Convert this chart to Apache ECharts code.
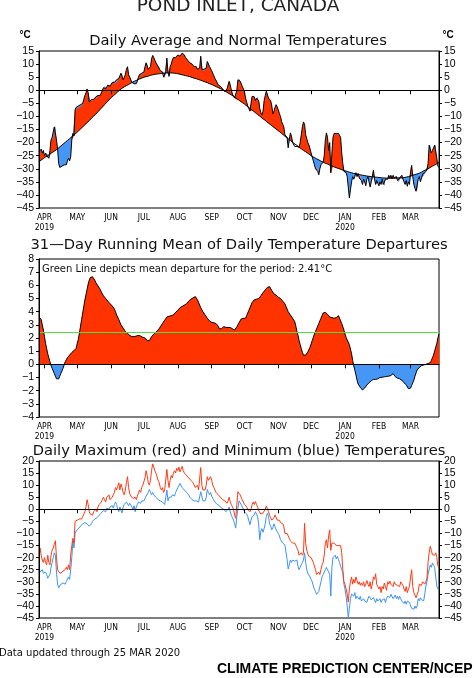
<!DOCTYPE html>
<html><head><meta charset="utf-8">
<script src="https://cdn.jsdelivr.net/npm/echarts@6/dist/echarts.min.js"></script>
<style>html,body{margin:0;padding:0;background:#fff}#c{width:474px;height:678px}</style>
</head><body><div id="c"></div>
<script>
// ---------------- data ----------------
const startDate = [2019, 2, 27];   // 27 Mar 2019 (year, monthIndex, day)
const dayCount = 367;
const monthNames = ['JAN','FEB','MAR','APR','MAY','JUN','JUL','AUG','SEP','OCT','NOV','DEC'];
const yearLabels = {'2019-04-01':'2019','2020-01-01':'2020'};
const periodMeanDeparture = 2.41;

const dailyAvg = [
-23.5,-24,-22.5,-24,-23,-25,-24,-25,-24.5,-26,
-23,-19,-18,-18.5,-14,-13.5,-19,-22.5,-28,-29.5,
-29,-29,-28.5,-28.5,-28,-28.5,-27,-26,-27,-25.5,
-19,-16.5,-17.5,-7.5,-6.5,-7,-6,-6.5,-5.5,-6,
-5,-4.5,-2,-1,0.5,-1,-4.5,-4,-3.5,-4,
-3.5,-3,-2.5,-3,-2,-1.5,-2,-1,0,1,
1.5,0.5,1,2,2,1.5,2,3,3.5,3,
2.5,4,3.5,4.5,5,6.5,6.5,4,5,6,
8,9,6,5,4.5,3,2.5,2.5,3,2.5,
3.5,5,6,6,6.5,6,7,9,10.5,10,
8,8.5,9,12,13.3,12.5,11.5,10.5,10,9,
9,7.5,7,7,5,4.8,7,12.3,7,5.3,
9,10,11.5,12.5,13,12.5,13,13.5,13.5,13,
13.5,14.2,13.8,13.5,12.5,12,11.5,11,10.5,10,
10,9.5,9,8.5,9,8,8,8.5,13,8,
7.5,8,7.5,8.5,11,10.5,9,8.5,7.5,6.5,
5.5,4.5,4,3,2,1.5,1.5,1,0.5,0,
-0.5,0,0.5,2,3.4,2,0,-1.5,-2,-3,
-3.5,0,4,4.4,3.5,3,1.5,0.5,-0.5,-3,
-4.5,-6,-7,-8,-5,-2.3,-3,-2.5,-4,-3,
-2.5,-4,-7,-8.5,-9.5,-8,-4,-2,-0.4,-1,
-3,-3.5,-4,-6,-9,-8,-6.5,-5.5,-6,-7.5,
-9,-10,-12,-13,-14,-17,-17.5,-18,-22,-19,
-16.3,-17.5,-20,-20.5,-21.5,-21,-21.5,-21,-21.8,-20,
-17,-14,-12.1,-13,-17,-18.5,-20,-21,-21.5,-24,
-25.5,-27,-28.5,-30,-29.5,-31,-32.3,-30,-28.5,-28,
-27.5,-25,-19,-16.3,-18,-23,-20,-31.6,-24,-18,
-16.5,-16.3,-16.5,-17,-16.5,-17,-18,-24,-28,-31,
-31,-31.5,-33,-37,-41.2,-38,-35,-33,-34,-33,
-31.5,-33,-31.8,-33.5,-33,-34.5,-36,-34,-35,-36.5,
-34,-33,-35,-37,-35,-33,-30.5,-34,-36,-34.5,
-35,-36.5,-35,-36,-34,-36,-36.5,-34,-33.5,-34,
-32.5,-33.5,-32.5,-33.8,-32.5,-33.5,-34,-33,-34.5,-35,
-33.5,-33,-32.5,-34,-35,-36,-34.5,-36.7,-35,-36,
-31,-28.7,-33,-36,-37.5,-38.6,-38,-34,-33,-35,
-33.5,-32,-32.5,-31.5,-31,-30.5,-28,-21,-20.8,-24,
-23,-22,-21,-20.8,-26,-29,-29.5];

const dailyNormal = [
-27.3,-27.0,-26.7,-26.4,-26.1,-25.8,-25.5,-25.2,-25.0,-24.7,
-24.4,-24.1,-23.8,-23.6,-23.3,-23.0,-22.7,-22.3,-22.0,-21.6,
-21.3,-21.0,-20.6,-20.3,-19.9,-19.6,-19.2,-18.9,-18.5,-18.2,
-17.8,-17.4,-17.1,-16.7,-16.4,-16.0,-15.6,-15.2,-14.8,-14.4,
-14.0,-13.6,-13.2,-12.8,-12.4,-12.0,-11.6,-11.2,-10.7,-10.3,
-9.9,-9.5,-9.1,-8.6,-8.2,-7.8,-7.3,-6.9,-6.4,-6.0,
-5.5,-5.1,-4.6,-4.2,-3.7,-3.3,-2.8,-2.4,-2.1,-1.7,
-1.4,-1.0,-0.6,-0.3,0.1,0.4,0.8,1.0,1.3,1.5,
1.8,2.0,2.2,2.5,2.7,3.0,3.2,3.4,3.6,3.7,
3.9,4.1,4.3,4.5,4.6,4.8,5.0,5.1,5.2,5.3,
5.4,5.6,5.7,5.8,5.9,6.0,6.1,6.2,6.2,6.3,
6.3,6.4,6.4,6.5,6.5,6.6,6.6,6.6,6.6,6.6,
6.6,6.6,6.6,6.5,6.5,6.4,6.4,6.3,6.2,6.1,
6.0,5.9,5.8,5.7,5.6,5.5,5.4,5.3,5.2,5.0,
4.9,4.8,4.6,4.5,4.4,4.3,4.1,4.0,3.8,3.7,
3.5,3.4,3.2,3.0,2.9,2.7,2.5,2.4,2.2,2.0,
1.8,1.6,1.4,1.2,1.0,0.8,0.6,0.4,0.2,-0.1,
-0.3,-0.6,-0.8,-1.1,-1.3,-1.6,-1.8,-2.1,-2.3,-2.6,
-2.9,-3.2,-3.5,-3.8,-4.1,-4.4,-4.7,-5.0,-5.3,-5.6,
-6.0,-6.3,-6.6,-6.9,-7.3,-7.6,-7.9,-8.3,-8.6,-8.9,
-9.3,-9.6,-9.9,-10.2,-10.6,-10.9,-11.2,-11.6,-11.9,-12.2,
-12.6,-12.9,-13.2,-13.5,-13.9,-14.2,-14.5,-14.9,-15.2,-15.5,
-15.8,-16.2,-16.5,-16.8,-17.2,-17.5,-17.9,-18.2,-18.5,-18.9,
-19.2,-19.5,-19.8,-20.2,-20.5,-20.8,-21.1,-21.5,-21.8,-22.1,
-22.4,-22.7,-23.0,-23.3,-23.5,-23.8,-24.1,-24.4,-24.7,-25.0,
-25.3,-25.5,-25.7,-26.0,-26.2,-26.4,-26.6,-26.8,-27.1,-27.3,
-27.5,-27.7,-27.9,-28.0,-28.2,-28.4,-28.6,-28.8,-28.9,-29.1,
-29.3,-29.5,-29.6,-29.8,-29.9,-30.1,-30.2,-30.4,-30.5,-30.7,
-30.8,-30.9,-31.0,-31.2,-31.3,-31.4,-31.5,-31.6,-31.8,-31.9,
-32.0,-32.1,-32.2,-32.2,-32.3,-32.4,-32.5,-32.6,-32.6,-32.7,
-32.8,-32.9,-32.9,-33.0,-33.0,-33.1,-33.1,-33.2,-33.2,-33.3,
-33.3,-33.4,-33.4,-33.4,-33.5,-33.5,-33.5,-33.5,-33.6,-33.6,
-33.6,-33.6,-33.6,-33.6,-33.6,-33.6,-33.6,-33.6,-33.5,-33.5,
-33.5,-33.5,-33.4,-33.4,-33.4,-33.3,-33.2,-33.1,-33.0,-32.9,
-32.8,-32.7,-32.5,-32.4,-32.2,-32.1,-32.0,-31.8,-31.7,-31.5,
-31.3,-31.1,-30.8,-30.6,-30.4,-30.2,-30.0,-29.8,-29.5,-29.3,
-29.0,-28.8,-28.6,-28.3,-28.1,-27.8,-27.6];

const runningMeanDeparture = [
3.6,3.5,3.4,3.0,2.6,2.1,1.6,1.2,0.8,0.5,
0.2,-0.1,-0.3,-0.5,-0.7,-0.9,-1.1,-1.24,-1.1,-0.9,
-0.7,-0.5,-0.3,-0.05,0.2,0.35,0.5,0.6,0.7,0.8,
0.9,1.0,1.05,1.1,1.2,1.6,1.9,2.4,2.9,3.4,
3.9,4.4,4.9,5.3,5.7,6.1,6.4,6.6,6.75,6.65,
6.5,6.4,6.2,6.1,5.95,5.8,5.7,5.5,5.4,5.2,
5.1,5.0,4.9,4.8,4.7,4.6,4.55,4.45,4.4,4.2,
4.0,3.75,3.6,3.4,3.2,3.0,2.87,2.75,2.6,2.5,
2.4,2.35,2.3,2.2,2.15,2.1,2.05,2.1,2.15,2.15,
2.15,2.2,2.1,2.15,2.1,2.05,2.0,2.0,1.9,1.8,
1.7,1.8,1.95,2.1,2.2,2.3,2.35,2.45,2.5,2.6,
2.75,2.85,3.0,3.1,3.2,3.35,3.5,3.6,3.6,3.65,
3.65,3.7,3.7,3.75,3.85,3.95,4.0,4.1,4.2,4.3,
4.3,4.4,4.45,4.5,4.55,4.6,4.7,4.8,4.9,4.95,
5.0,5.05,5.1,5.15,5.05,4.9,4.7,4.5,4.3,4.15,
4.0,3.9,3.75,3.6,3.5,3.4,3.3,3.2,3.2,3.15,
3.15,3.1,3.1,3.1,2.9,2.7,2.6,2.7,2.8,2.87,
2.85,2.8,2.8,2.8,2.8,2.8,2.75,2.7,2.65,2.6,
2.7,2.85,3.0,3.15,3.3,3.45,3.5,3.5,3.5,3.5,
3.7,3.9,4.1,4.3,4.5,4.7,4.85,4.9,4.9,4.95,
5.0,5.0,5.1,5.2,5.3,5.45,5.55,5.65,5.75,5.85,
5.96,5.9,5.75,5.6,5.45,5.35,5.3,5.25,5.2,5.1,
5.05,5.0,4.9,4.8,4.7,4.6,4.4,4.2,4.0,3.85,
3.75,3.6,3.5,3.4,3.25,2.9,2.5,2.2,1.8,1.5,
1.2,0.9,0.7,0.63,0.7,0.8,0.95,1.1,1.3,1.55,
1.8,2.05,2.3,2.5,2.7,2.9,3.1,3.3,3.5,3.7,
3.9,4.0,3.95,3.9,3.8,3.7,3.6,3.6,3.55,3.5,
3.5,3.5,3.55,3.6,3.7,3.5,3.3,3.1,2.85,2.6,
2.3,2.05,1.85,1.7,1.5,1.35,0.8,0.3,-0.1,-0.45,
-0.8,-1.2,-1.5,-1.65,-1.75,-1.85,-1.95,-1.9,-1.8,-1.7,
-1.57,-1.5,-1.4,-1.32,-1.25,-1.2,-1.14,-1.14,-1.15,-1.14,
-1.1,-1.05,-1.0,-1.0,-0.98,-0.96,-0.95,-0.94,-0.92,-0.9,
-0.9,-0.9,-0.85,-0.8,-0.7,-0.8,-0.94,-1.0,-1.05,-1.07,
-1.1,-1.15,-1.2,-1.3,-1.4,-1.45,-1.55,-1.7,-1.85,-1.95,
-1.8,-1.6,-1.4,-1.2,-0.9,-0.65,-0.43,-0.33,-0.23,-0.13,
-0.1,-0.07,-0.05,-0.02,0.0,0.03,0.06,0.09,0.13,0.3,
0.5,0.7,1.0,1.3,1.6,2.0,2.3];

const dailyMax = [
-20,-16,-19,-21,-22,-20,-22,-23,-19,-22,
-23,-19,-17,-16,-14.5,-13,-20,-25,-26,-26,
-26.5,-26,-25.5,-26,-25,-24,-25,-23,-25,-19,
-15,-12,-14,-5,-4.5,-4.5,-5,-4,-4.5,-4,
-3,-3.5,-1,1,4,2,-1,-2,-1.5,-2.5,
-1,-1,0,-1,1,2,1.5,3,4,5,
4,3,5,5,6,4,3.5,5,6,7,
9,8,9.5,11,8,10.5,9,7,6,8,
11,13.5,9,6.5,5.5,5,4.5,4,5,4,
5.5,6,8,7,9,10,9.5,13,16,14,
11,10,12,16,18.8,17.5,16,15,13.5,12,
11,9,8,9,7,8,8,16.5,12,9,
12,14,13,15,16,15,17,16,17.5,15.5,
16.5,17.8,16,15,15.5,14,14.5,13,13.5,12,
12.5,11,10.5,9,8.5,10,8,7.5,17.3,10,
8,8.5,8,10,13.5,12,12.5,13.5,12,10,
9,8,7,6.5,6,5.5,5,5,4,4.5,
3.5,3,2.5,3.5,5,3,2,1,0,-2.5,
-3.7,2,7.3,7.7,6,5.5,4,3,2,2.5,
1,0,-0.5,-1,0,2,3,2,3.2,2,
1,-0.5,-1,-2,-2.5,-1.5,-1,0,1.4,1,
-1,-2.5,-3.5,-4.5,-4,-3.5,-2.3,-3,-4.5,-5,
-4.5,-5.5,-5,-6,-7,-10,-10.5,-10,-11,-12,
-13,-12.5,-14,-13.5,-14,-15,-14.5,-17,-19,-19.5,
-18,-19,-18,-5.8,-14,-17,-18.5,-19.5,-19,-20,
-21,-22,-23.5,-25,-27,-27.7,-26,-27,-25,-23,
-22,-19,-14,-12.6,-16,-11,-8.5,-17,-14,-14.5,
-14,-14.5,-15,-14.5,-15,-15.5,-15,-18,-25,-30,
-31,-33,-35,-38.4,-33,-30,-28,-31,-29,-30.5,
-28,-29.5,-31,-30,-31.5,-30.5,-31.5,-30,-32,-31,
-29.5,-31,-32,-30,-33,-31,-28,-29,-26.7,-31,
-32,-33,-32,-34.5,-32,-33,-30.5,-32,-33.5,-30,
-31,-29.7,-31,-30.5,-32,-30,-31,-30.5,-31.5,-31,
-32,-30,-30.5,-31.5,-33,-34,-32,-34.5,-33,-32,
-28,-25,-32,-34.5,-35,-36.6,-36,-34,-31,-30.5,
-31.5,-30,-29.7,-31,-30,-28.5,-22,-18,-15.3,-17,
-18.8,-18,-19,-18,-20,-23.6,-24];

const dailyMin = [
-23.5,-26,-26.5,-25,-26.5,-27,-26,-27,-28.5,-29,
-27,-24,-22,-20,-18,-19,-26,-31,-32.5,-32,
-31,-31.5,-30.5,-30.5,-31,-30,-29.5,-28,-29,-25,
-20,-13,-16,-10,-9,-9.5,-8,-8.5,-7,-7.5,
-6,-6.5,-5.5,-5,-6,-6.5,-7,-7.5,-6,-5,
-4.5,-4,-4.5,-3.5,-3,-2.5,-2,-1.5,-1,-0.5,
0,-1,0.5,1,0,1,0.5,1.5,0.5,2,
3,2,0,-1,1,1.5,-1.5,1,2,2.5,
3,2.5,1.5,2.5,3.2,1,0,1.5,-1,1,
2,3,3.5,2.5,3.5,4,3.5,4.5,5.5,5,
7,8.2,7,6,7,6,5.5,5,4.5,4,
4.5,3.5,4,3,3.5,2,5,8,3.5,5,
5.5,5,6,6.5,5.5,7,8,9,9.5,10.7,
10,9,8.5,8,8.5,7,6.5,6,5,4.5,
4,3.5,3.5,3,3.5,4,3,2.5,7.3,7,
3.5,3,3.5,5,8.2,7,6,7,5.5,4.5,
4,3,2.5,2,2,1.5,1,0.5,1,0,
-0.5,-1,-1.5,0,1,-1,-2.5,-3.5,-4.5,-6,
-7.8,-3,0.4,3.5,3.6,2,1,0,-1,-0.5,
-2,-3,-3.5,-6.4,-4.5,-3,-2.5,-2.3,-1,-2,
-3,-6,-12.6,-9,-8,-9.5,-8,-6,-3,-1.6,
-3,-6,-7,-8.5,-7.5,-6,-6.5,-8.5,-9,-10,
-11,-12.6,-13,-14,-13.5,-14.7,-15,-20.8,-24.7,-23,
-21,-22,-21,-20.8,-21.5,-22,-21,-23.6,-25,-24,
-23,-22,-21,-18,-22,-25,-26.5,-27,-28,-29,
-30,-31.8,-33,-34,-35.2,-34.5,-34,-32,-30,-28,
-27,-26.3,-25,-24,-25,-26,-27,-35.9,-24,-20,
-19.5,-19,-20.5,-19.5,-20.8,-22,-23.6,-25,-26.3,-31,
-33,-36,-40,-44.8,-41,-37,-35,-35.5,-36,-34.5,
-37,-36,-35.5,-37.3,-36,-38,-38.6,-37,-38,-37.5,
-38.5,-37,-36,-35.2,-37.5,-38,-36.5,-37.3,-38.6,-37,
-38,-38.5,-37,-38.5,-37.5,-38,-37,-38.6,-37,-36,
-35.5,-36.5,-35.2,-36,-37,-36.5,-35.5,-37,-36,-37.3,
-36,-37,-38,-37.5,-39,-38,-39.3,-38,-37.5,-38.5,
-40,-41,-40.5,-41.4,-40,-41,-40,-37,-37.9,-36.6,
-37.5,-37,-37.9,-35,-31.8,-30,-27,-25,-23,-24,
-22.2,-21.5,-24,-28,-31.8,-33,-33];

// ---------------- build ----------------
const dates = [];
const t0 = Date.UTC(startDate[0], startDate[1], startDate[2]);
for (let i = 0; i < dayCount; i++) dates.push(new Date(t0 + i * 86400000).toISOString().slice(0, 10));

const lower = dailyAvg.map((v, i) => Math.min(v, dailyNormal[i]));
const warm = dailyAvg.map((v, i) => Math.max(v - dailyNormal[i], 0));
const cold = dailyAvg.map((v, i) => Math.max(dailyNormal[i] - v, 0));
const depPos = runningMeanDeparture.map(v => Math.max(v, 0));
const depNeg = runningMeanDeparture.map(v => Math.min(v, 0));

const RED = '#ff3300', BLUE = '#4596f5';
const isMonthStart = (idx, val) => String(val).slice(8) === '01';
const monthLabel = (val) => {
  let s = monthNames[+val.slice(5, 7) - 1];
  if (yearLabels[val]) s += '\n' + yearLabels[val];
  return s;
};
const yFmt = v => (v < 0 ? '\u2212' + Math.abs(v) : String(v));
const LBL = {color: '#000', fontFamily: '"Liberation Sans", Arial, sans-serif', fontSize: 10.5};

function xAx(g) {
  return {type: 'category', gridIndex: g, data: dates, boundaryGap: false, z: 10,
    axisLine: {lineStyle: {color: '#000', width: 1}},
    axisTick: {interval: isMonthStart, length: 4, lineStyle: {color: '#000'}},
    axisLabel: {interval: isMonthStart, formatter: monthLabel, color: '#000',
      fontFamily: '"Liberation Sans Narrow", "DejaVu Sans Condensed", "Liberation Sans", sans-serif',
      fontSize: 8.5, lineHeight: 10, margin: 5},
    splitLine: {show: false}};
}
function yAx(g, min, max, step, pos, labels) {
  return {type: 'value', gridIndex: g, min: min, max: max, interval: step, position: pos, z: 10,
    axisLine: {show: true, onZero: false, lineStyle: {color: '#000', width: 1}},
    axisTick: {show: labels, length: 3, lineStyle: {color: '#000'}},
    axisLabel: Object.assign({show: labels, formatter: yFmt, margin: 5}, LBL),
    splitLine: {show: false}};
}
const lineBase = {type: 'line', symbol: 'none', silent: true, animation: false};
const TITLE_FONT = '14.7px "DejaVu Sans", sans-serif';

const option = {
  animation: false,
  backgroundColor: '#fff',
  grid: [
    {left: 39, width: 400, top: 51, height: 157, show: true, borderColor: '#000', borderWidth: 1, backgroundColor: 'transparent'},
    {left: 39, width: 400, top: 259, height: 158, show: true, borderColor: '#000', borderWidth: 1, backgroundColor: 'transparent'},
    {left: 39, width: 400, top: 461, height: 157, show: true, borderColor: '#000', borderWidth: 1, backgroundColor: 'transparent'}
  ],
  xAxis: [xAx(0), xAx(1), xAx(2)],
  yAxis: [
    yAx(0, -45, 15, 5, 'left', true),
    yAx(0, -45, 15, 5, 'right', true),
    yAx(1, -4, 8, 1, 'left', true),
    yAx(2, -45, 20, 5, 'left', true),
    yAx(2, -45, 20, 5, 'right', true)
  ],
  series: [
    Object.assign({}, lineBase, {name: 'base', xAxisIndex: 0, yAxisIndex: 0, data: lower, stack: 'dep', stackStrategy: 'all', lineStyle: {opacity: 0}}),
    Object.assign({}, lineBase, {name: 'warm', xAxisIndex: 0, yAxisIndex: 0, data: warm, stack: 'dep', stackStrategy: 'all', lineStyle: {opacity: 0}, areaStyle: {color: RED, opacity: 1}}),
    Object.assign({}, lineBase, {name: 'cold', xAxisIndex: 0, yAxisIndex: 0, data: cold, stack: 'dep', stackStrategy: 'all', lineStyle: {opacity: 0}, areaStyle: {color: BLUE, opacity: 1}}),
    Object.assign({}, lineBase, {name: 'normal', xAxisIndex: 0, yAxisIndex: 0, data: dailyNormal, lineStyle: {color: '#000', width: 1}}),
    Object.assign({}, lineBase, {name: 'avg', xAxisIndex: 0, yAxisIndex: 0, data: dailyAvg, lineStyle: {color: '#000', width: 1}}),

    Object.assign({}, lineBase, {name: 'pos', xAxisIndex: 1, yAxisIndex: 2, data: depPos, lineStyle: {opacity: 0}, areaStyle: {color: RED, opacity: 1}}),
    Object.assign({}, lineBase, {name: 'neg', xAxisIndex: 1, yAxisIndex: 2, data: depNeg, lineStyle: {opacity: 0}, areaStyle: {color: BLUE, opacity: 1}}),
    Object.assign({}, lineBase, {name: 'runmean', xAxisIndex: 1, yAxisIndex: 2, data: runningMeanDeparture, lineStyle: {color: '#000', width: 1},
      markLine: {silent: true, symbol: 'none', animation: false, label: {show: false},
        data: [
          {yAxis: 0, lineStyle: {color: '#000', width: 1, type: 'solid'}},
          {yAxis: periodMeanDeparture, lineStyle: {color: '#55dd44', width: 1.2, type: 'solid'}}
        ]}}),

    Object.assign({}, lineBase, {name: 'min', xAxisIndex: 2, yAxisIndex: 3, data: dailyMin, lineStyle: {color: '#3d93f0', width: 1}}),
    Object.assign({}, lineBase, {name: 'max', xAxisIndex: 2, yAxisIndex: 3, data: dailyMax, lineStyle: {color: '#ff3a14', width: 1}})
  ],
  graphic: [
    {type: 'text', x: 238, y: 6, style: {text: 'POND INLET, CANADA', font: '18.5px "DejaVu Sans", sans-serif', fill: '#222', align: 'center', verticalAlign: 'middle'}},
    {type: 'text', x: 25, y: 35, style: {text: '°C', font: 'bold 10px "Liberation Sans", sans-serif', fill: '#000', align: 'center', verticalAlign: 'middle'}},
    {type: 'text', x: 448, y: 35, style: {text: '°C', font: 'bold 10px "Liberation Sans", sans-serif', fill: '#000', align: 'center', verticalAlign: 'middle'}},
    {type: 'text', x: 238, y: 41, style: {text: 'Daily Average and Normal Temperatures', font: TITLE_FONT, fill: '#111', align: 'center', verticalAlign: 'middle'}},
    {type: 'text', x: 239, y: 245, style: {text: '31\u2014Day Running Mean of Daily Temperature Departures', font: TITLE_FONT, fill: '#111', align: 'center', verticalAlign: 'middle'}},
    {type: 'text', x: 42, y: 269, style: {text: 'Green Line depicts mean departure for the period: ' + periodMeanDeparture + '°C', font: '10px "DejaVu Sans", sans-serif', fill: '#111', align: 'left', verticalAlign: 'middle'}},
    {type: 'text', x: 239, y: 451, style: {text: 'Daily Maximum (red) and Minimum (blue) Temperatures', font: TITLE_FONT, fill: '#111', align: 'center', verticalAlign: 'middle'}},
    {type: 'text', x: -1, y: 653, style: {text: 'Data updated through 25 MAR 2020', font: '10px "DejaVu Sans", sans-serif', fill: '#111', align: 'left', verticalAlign: 'middle'}},
    {type: 'text', x: 217, y: 669, style: {text: 'CLIMATE PREDICTION CENTER/NCEP', font: 'bold 14px "Liberation Sans", Arial, sans-serif', fill: '#000', align: 'left', verticalAlign: 'middle'}}
  ]
};
const chart = echarts.init(document.getElementById('c'), null, {renderer: 'canvas'});
chart.setOption(option);
</script>
</body></html>
